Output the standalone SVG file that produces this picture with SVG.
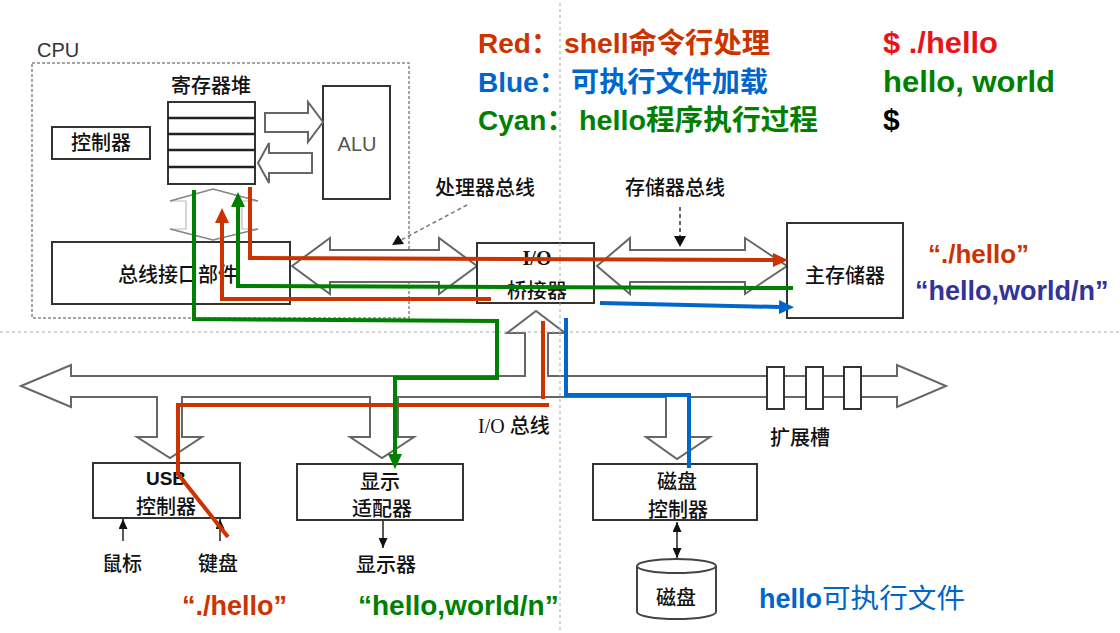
<svg xmlns="http://www.w3.org/2000/svg" width="1120" height="633" viewBox="0 0 1120 633">
<defs>
<style>
.box{fill:#fff;stroke:#333;stroke-width:2}
.hol{fill:#fff;stroke:#666;stroke-width:2;stroke-linejoin:miter}
.lbl{font-family:"Noto Sans CJK SC","Liberation Sans",sans-serif;font-size:20px;font-weight:500;fill:#111;text-anchor:middle}
.ser{font-family:"Liberation Serif","Noto Sans CJK SC",serif}
.big{font-family:"Liberation Sans","Noto Sans CJK SC",sans-serif;font-weight:bold}
.red{stroke:#cc3300;stroke-width:4;fill:none}
.grn{stroke:#008000;stroke-width:4;fill:none}
.blu{stroke:#0066cc;stroke-width:4;fill:none}
.grid{stroke:#aaa;stroke-width:1;stroke-dasharray:3 3;fill:none}
.thin{stroke:#222;stroke-width:1.5;fill:none}
</style>
<marker id="aR" markerUnits="userSpaceOnUse" markerWidth="15" markerHeight="14" viewBox="0 0 15 14" refX="0" refY="7" orient="auto"><path d="M0,0L15,7L0,14z" fill="#cc3300"/></marker>
<marker id="aG" markerUnits="userSpaceOnUse" markerWidth="15" markerHeight="14" viewBox="0 0 15 14" refX="0" refY="7" orient="auto"><path d="M0,0L15,7L0,14z" fill="#008000"/></marker>
<marker id="aB" markerUnits="userSpaceOnUse" markerWidth="15" markerHeight="14" viewBox="0 0 15 14" refX="0" refY="7" orient="auto"><path d="M0,0L15,7L0,14z" fill="#0066cc"/></marker>
<marker id="aK" markerUnits="userSpaceOnUse" markerWidth="10" markerHeight="9" viewBox="0 0 10 9" refX="10" refY="4.5" orient="auto-start-reverse"><path d="M0,0L10,4.5L0,9z" fill="#111"/></marker>
</defs>
<rect width="1120" height="633" fill="#fff"/>

<g id="legend" class="big" font-size="28">
<text x="478" y="53" fill="#cc3300"><tspan>Red：</tspan><tspan x="564" textLength="206" lengthAdjust="spacingAndGlyphs">shell命令行处理</tspan></text>
<text x="478" y="92" fill="#0066cc"><tspan>Blue：</tspan><tspan x="571" textLength="197" lengthAdjust="spacingAndGlyphs">可执行文件加载</tspan></text>
<text x="478" y="130" fill="#008000"><tspan>Cyan：</tspan><tspan x="579" textLength="239" lengthAdjust="spacingAndGlyphs">hello程序执行过程</tspan></text>
<text x="883" y="53" fill="#e8141a" font-size="30" textLength="115" lengthAdjust="spacingAndGlyphs">$ ./hello</text>
<text x="883" y="92" fill="#008000" font-size="30" textLength="172" lengthAdjust="spacingAndGlyphs">hello, world</text>
<text x="883" y="130" fill="#000" font-size="30">$</text>
</g>

<g id="cpu">
<rect x="32" y="63" width="377" height="255" fill="none" stroke="#888" stroke-width="1.5" stroke-dasharray="3 2"/>
<text x="37" y="57" font-family="Liberation Sans,sans-serif" font-size="20" fill="#333">CPU</text>
</g>

<g id="regfile">
<text class="lbl" x="211" y="93">寄存器堆</text>
<rect class="box" x="168" y="102" width="87" height="82"/>
<path d="M168,118H255M168,134H255M168,150H255M168,167H255" stroke="#222" stroke-width="2.5"/>
</g>

<g id="controller">
<rect class="box" x="52" y="127" width="98" height="32"/>
<text class="lbl" x="101" y="150">控制器</text>
</g>

<g id="alu">
<rect class="box" x="323" y="86" width="67" height="113"/>
<text x="357" y="151" font-family="Liberation Sans,sans-serif" font-size="20" fill="#555" text-anchor="middle">ALU</text>
<polygon class="hol" points="265,113 308,113 308,102 323,122 308,142 308,132 265,132"/>
<polygon class="hol" points="312,153 269,153 269,143 258,163 269,183 269,173 312,173"/>
</g>

<g id="reg-bus-link">
<polygon points="213,189 258,201 242,201 242,229 258,229 213,240 170,229 186,229 186,201 170,201" fill="#fff" stroke="#bbb" stroke-width="1.2"/>
<path d="M170,201L213,189L258,201M170,229L213,240L258,229" fill="none" stroke="#888" stroke-width="1.5"/>
</g>

<g id="bus-interface">
<rect class="box" x="52" y="242" width="238" height="62"/>
<text class="lbl" x="178" y="282">总线接口部件</text>
</g>

<g id="processor-bus">
<polygon class="hol" points="292,266 330,238 330,250 439,250 439,238 477,266 439,294 439,282 330,282 330,294"/>
<text class="lbl" x="485" y="195">处理器总线</text>
<path d="M467,205L401,240" stroke="#777" stroke-width="1.5" stroke-dasharray="4 3" fill="none"/>
<polygon points="392,245 398,235 404,244" fill="#111"/>
</g>

<g id="io-bridge">
<rect class="box" x="477" y="243" width="117" height="60"/>
<text class="ser" x="537" y="265" font-size="20" font-weight="bold" text-anchor="middle" fill="#111">I/O</text>
<text class="lbl" x="537" y="298">桥接器</text>
</g>

<g id="memory-bus">
<polygon class="hol" points="597,266 630,238 630,250 745,250 745,238 787,266 745,294 745,282 630,282 630,294"/>
<text class="lbl" x="675" y="195">存储器总线</text>
<path d="M680,207V237" stroke="#333" stroke-width="1.5" stroke-dasharray="4 3" fill="none"/>
<polygon points="674,236 686,236 680,247" fill="#111"/>
</g>

<g id="main-memory">
<rect class="box" x="787" y="223" width="116" height="95"/>
<text class="lbl" x="845" y="283">主存储器</text>
</g>

<g id="io-bus">
<polygon class="hol" points="21,386 71,365 71,376 525,376 525,333 507,333 536,311 565,333 548,333 548,376 897,376 897,365 946,386 897,407 897,397 688,397 688,437 710,437 677,459 646,437 666,437 666,397 398,397 398,437 414,437 382,458 350,437 370,437 370,397 182,397 182,437 202,437 170,458 137,437 157,437 157,397 71,397 71,407"/>
<rect class="box" x="767" y="367" width="17" height="42" stroke="#555"/>
<rect class="box" x="806" y="367" width="17" height="42" stroke="#555"/>
<rect class="box" x="844" y="367" width="17" height="42" stroke="#555"/>
<text class="lbl" x="800" y="445">扩展槽</text>
<text x="478" y="433" font-size="20" fill="#111"><tspan class="ser">I/O</tspan><tspan font-family="Noto Sans CJK SC,sans-serif" font-weight="500" dx="5">总线</tspan></text>
</g>

<g id="usb-controller">
<rect class="box" x="93" y="463" width="147" height="55"/>
<text x="166" y="485" font-family="Liberation Sans,sans-serif" font-size="19" font-weight="bold" text-anchor="middle" fill="#111">USB</text>
<text class="lbl" x="166" y="514">控制器</text>
</g>

<g id="mouse">
<path class="thin" d="M123,541V519" marker-end="url(#aK)"/>
<text class="lbl" x="122" y="571">鼠标</text>
</g>

<g id="keyboard">
<path class="thin" d="M220,541V519" marker-end="url(#aK)"/>
<text class="lbl" x="218" y="571">键盘</text>
</g>

<g id="display-adapter">
<rect class="box" x="297" y="464" width="166" height="56"/>
<text class="lbl" x="380" y="489">显示</text>
<text class="lbl" x="382" y="516">适配器</text>
</g>

<g id="display">
<path class="thin" d="M383,521V548" marker-end="url(#aK)"/>
<text class="lbl" x="386" y="572">显示器</text>
</g>

<g id="disk-controller">
<rect class="box" x="593" y="464" width="164" height="56"/>
<text class="lbl" x="677" y="489">磁盘</text>
<text class="lbl" x="678" y="517">控制器</text>
<path class="thin" d="M677,522V558" marker-start="url(#aK)" marker-end="url(#aK)"/>
</g>

<g id="disk">
<path d="M637,566V612A39.5,7 0 0 0 716,612V566" fill="#fff" stroke="#444" stroke-width="2"/>
<ellipse cx="676.5" cy="566" rx="39.5" ry="7" fill="#fff" stroke="#444" stroke-width="2"/>
<text class="lbl" x="676" y="605">磁盘</text>
</g>

<g id="labels" class="big">
<text x="928" y="263" font-size="26" fill="#cc3300">“./hello”</text>
<text x="915" y="300" font-size="27" fill="#333399">“hello,world/n”</text>
<text x="182" y="615" font-size="27" fill="#cc3300">“./hello”</text>
<text x="358" y="615" font-size="28" fill="#008000">“hello,world/n”</text>
<text x="759" y="608" font-size="27" fill="#0066cc"><tspan>hello</tspan><tspan font-weight="normal" textLength="143" lengthAdjust="spacingAndGlyphs">可执行文件</tspan></text>
</g>

<g id="guides">
<path class="grid" d="M0,332H1120"/>
<path class="grid" d="M560,3V633"/>
</g>

<g id="connectors">
<path class="red" d="M250,187V258L773,260" marker-end="url(#aR)"/>
<path class="red" d="M491,299H222V223" marker-end="url(#aR)"/>
<path class="red" d="M228,537L178,474V405H549"/>
<path class="red" d="M543,399V321"/>
<path class="grn" d="M793,288L238,286V207" marker-end="url(#aG)"/>
<path class="grn" d="M194,190V319L497,321V378H395V454" marker-end="url(#aG)"/>
<path class="blu" d="M600,303L779,307" marker-end="url(#aB)"/>
<path class="blu" d="M689,468V395H566V318"/>
</g>
</svg>
